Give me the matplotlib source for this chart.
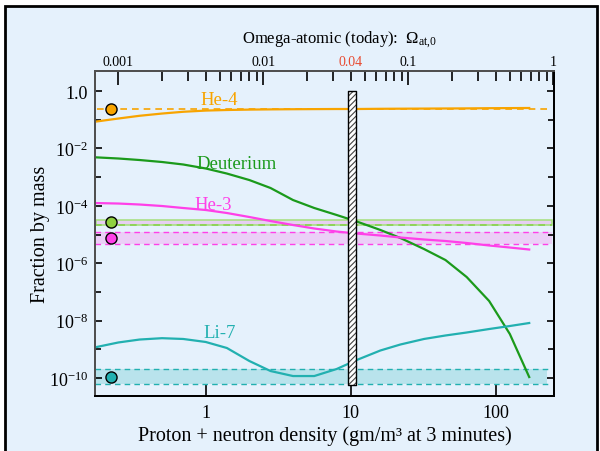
import numpy as np
import matplotlib
matplotlib.use('Agg')
import matplotlib.pyplot as plt
from matplotlib.patches import Rectangle
from matplotlib.ticker import FixedLocator, NullFormatter

plt.rcParams['font.family'] = 'serif'
plt.rcParams['font.serif'] = ['Liberation Serif', 'DejaVu Serif']
plt.rcParams['mathtext.fontset'] = 'custom'
plt.rcParams['mathtext.rm'] = 'Liberation Serif'
plt.rcParams['mathtext.it'] = 'Liberation Serif:italic'
plt.rcParams['hatch.color'] = '#444444'
plt.rcParams['hatch.linewidth'] = 0.8

# baryon density (gm/m^3 at 3 minutes) and predicted mass fractions
density = [0.1725, 0.25, 0.35, 0.5, 0.7, 1, 1.4, 2, 2.8, 4, 5.6, 8, 11, 16, 22,
           32, 45, 63, 90, 125, 170]
he4 = [0.0852, 0.110, 0.137, 0.164, 0.189, 0.208, 0.218, 0.225, 0.229, 0.232, 0.234,
       0.236, 0.236, 0.240, 0.242, 0.244, 0.246, 0.248, 0.252, 0.254, 0.256]
deut = [4.90e-3, 4.45e-3, 3.94e-3, 3.36e-3, 2.75e-3, 2.00e-3, 1.33e-3, 7.9e-4, 4.17e-4,
        1.59e-4, 8.4e-5, 4.78e-5, 2.84e-5, 1.44e-5, 7.55e-6, 3.12e-6, 1.29e-6, 3.30e-7,
        4.82e-8, 3.41e-9, 1.08e-10]
he3 = [1.25e-4, 1.20e-4, 1.11e-4, 9.84e-5, 8.38e-5, 7.14e-5, 5.61e-5, 4.07e-5, 2.95e-5,
       2.14e-5, 1.62e-5, 1.27e-5, 1.08e-5, 9.23e-6, 7.86e-6, 6.70e-6, 5.94e-6, 5.06e-6,
       4.14e-6, 3.52e-6, 3.00e-6]
li7 = [1.17e-9, 1.73e-9, 2.19e-9, 2.44e-9, 2.29e-9, 1.80e-9, 1.11e-9, 3.91e-10, 1.75e-10,
       1.17e-10, 1.17e-10, 2.06e-10, 4.24e-10, 9.08e-10, 1.47e-9, 2.29e-9, 3.03e-9, 3.85e-9,
       5.09e-9, 6.48e-9, 8.24e-9]

# observed abundances: central value and band
obs_x = 0.221
he4_obs = 0.236
d_obs, d_band = 2.75e-5, (2.1e-5, 3.2e-5)
he3_obs, he3_band = 7.6e-6, (4.7e-6, 1.23e-5)
li7_obs, li7_band = 1.07e-10, (6.2e-11, 2.05e-10)

# measured baryon density (hatched bar)
bar_x = (9.5, 10.8)
bar_y = (5.7e-11, 1.0)

# density -> omega_atomic today
omega_scale = 0.004
omega_ticks = [0.001, 0.01, 0.04, 0.1, 1]
omega_labels = ['0.001', '0.01', '0.04', '0.1', '1']
omega_minor = [m * 10.0 ** e for e in (-3, -2, -1) for m in range(2, 10) if m * 10.0 ** e != 0.04]

bg = '#e5f1fc'
orange = '#f8a400'
green = '#1b9a1b'
lgreen = '#a4e07a'
magenta = '#ff40e8'
teal = '#22b0b0'

fig = plt.figure(figsize=(6, 4.52), dpi=100, facecolor='white')
fig.patches.append(Rectangle((5 / 600, -0.1), 592 / 600, 1.1 - 7 / 452,
                             transform=fig.transFigure, facecolor=bg,
                             edgecolor='black', linewidth=2, zorder=-10))
ax = fig.add_axes([95 / 600, 1 - 397 / 452, 459 / 600, 325 / 452])
ax.set_facecolor(bg)
ax.set_xscale('log')
ax.set_yscale('log')
ax.set_xlim(0.1725, 252)
ax.set_ylim(2.36e-11, 4.98)

# observational bands
dash = (0, (4, 3))
ax.axhspan(he3_band[0], he3_band[1], xmax=0.995, color='#ebcff7', lw=0, zorder=1)
ax.axhline(he3_band[0], xmax=0.995, color=magenta, lw=1, ls=dash, zorder=2)
ax.axhline(he3_band[1], xmax=0.995, color=magenta, lw=1, ls=dash, zorder=2)
ax.axhspan(d_band[0], d_band[1], xmin=0.003, xmax=0.995, facecolor='#e6cff2',
           edgecolor=lgreen, lw=1.1, zorder=2)
ax.axhline(d_band[0], xmax=0.995, color='#88d050', lw=1.2, ls=dash, zorder=2)
ax.axhspan(li7_band[0], li7_band[1], xmax=0.985, color='#b9e3ec', lw=0, zorder=1)
ax.axhline(li7_band[0], xmax=0.993, color=teal, lw=1, ls=dash, zorder=2)
ax.axhline(li7_band[1], xmax=0.993, color=teal, lw=1, ls=dash, zorder=2)
ax.axhline(he4_obs, xmin=0.005, xmax=0.993, color=orange, lw=1.2, ls=dash, zorder=2)

# predicted abundances
ax.plot(density, he4, color=orange, lw=1.6, zorder=3)
ax.plot(density, deut, color=green, lw=1.6, zorder=3)
ax.plot(density, he3, color=magenta, lw=1.6, zorder=3)
ax.plot(density, li7, color=teal, lw=1.6, zorder=3)

# observed points
ax.plot(obs_x, he4_obs, 'o', ms=8, mfc=orange, mec='black', mew=1, zorder=5)
ax.plot(obs_x, d_obs, 'o', ms=8, mfc='#8fd040', mec='black', mew=1, zorder=5)
ax.plot(obs_x, he3_obs, 'o', ms=8, mfc=magenta, mec='black', mew=1, zorder=5)
ax.plot(obs_x, li7_obs, 'o', ms=8, mfc=teal, mec='black', mew=1, zorder=5)

# hatched bar
ax.fill_betweenx(bar_y, bar_x[0], bar_x[1], facecolor='white', edgecolor='#444444',
                 hatch='//////', lw=0, zorder=6)
ax.fill_betweenx(bar_y, bar_x[0], bar_x[1], facecolor='none', edgecolor='black',
                 lw=1, zorder=7)

ax.text(1.23, 10**-0.31, 'He-4', color=orange, fontsize=13.5, ha='center', va='center')
ax.text(1.64, 10**-2.54, 'Deuterium', color=green, fontsize=13.5, ha='center', va='center')
ax.text(1.135, 10**-3.94, 'He-3', color=magenta, fontsize=13.5, ha='center', va='center')
ax.text(1.25, 10**-8.40, 'Li-7', color=teal, fontsize=13.5, ha='center', va='center')

# axes and ticks
ax.xaxis.set_major_locator(FixedLocator([1, 10, 100]))
ax.xaxis.set_minor_locator(FixedLocator([]))
ax.set_xticklabels(['1', '10', '100'])
ax.yaxis.set_major_locator(FixedLocator([10.0 ** k for k in range(0, -11, -2)]))
ax.yaxis.set_minor_locator(FixedLocator([10.0 ** k for k in range(-1, -10, -2)]))
ax.yaxis.set_minor_formatter(NullFormatter())
ax.set_yticklabels(['1.0', '$10^{-2}$', '$10^{-4}$', '$10^{-6}$', '$10^{-8}$', '$10^{-10}$'])
ax.tick_params(axis='x', which='major', direction='in', length=9, width=1.2,
               labelsize=13, pad=6)
ax.tick_params(axis='y', which='both', direction='in', length=5, width=1.2,
               labelsize=13, right=True, pad=5)
ax.tick_params(axis='y', which='minor', length=4)

ax.set_xlabel('Proton + neutron density (gm/m³ at 3 minutes)', fontsize=14.5, labelpad=3)
ax.set_ylabel('Fraction by mass', fontsize=14.5, labelpad=-1)

top = ax.twiny()
top.set_xscale('log')
top.set_xlim(0.1725 * omega_scale, 252 * omega_scale)
top.set_xticks(omega_ticks, labels=omega_labels)
top.xaxis.set_minor_locator(FixedLocator(omega_minor))
top.xaxis.set_minor_formatter(NullFormatter())
top.tick_params(axis='x', which='major', direction='in', length=10, width=1.2,
                labelsize=10, pad=2)
top.tick_params(axis='x', which='minor', direction='in', length=7, width=1.2)
# the measured value is marked like a minor tick, label in red
top.xaxis.get_major_ticks()[2].tick2line.set_markersize(7)
top.get_xticklabels()[2].set_color('#e84a30')

for a in (ax, top):
    for side in ['top', 'left']:
        a.spines[side].set_color('#505050')
    for side in ['top', 'left', 'right', 'bottom']:
        a.spines[side].set_linewidth(1.4)

fig.text(340 / 600, 1 - 40 / 452, r'Omega-atomic (today):  $\Omega_{\mathrm{at{,}0}}$',
         fontsize=12, ha='center', va='center')

fig.savefig('out.png', dpi=100, facecolor='white')
